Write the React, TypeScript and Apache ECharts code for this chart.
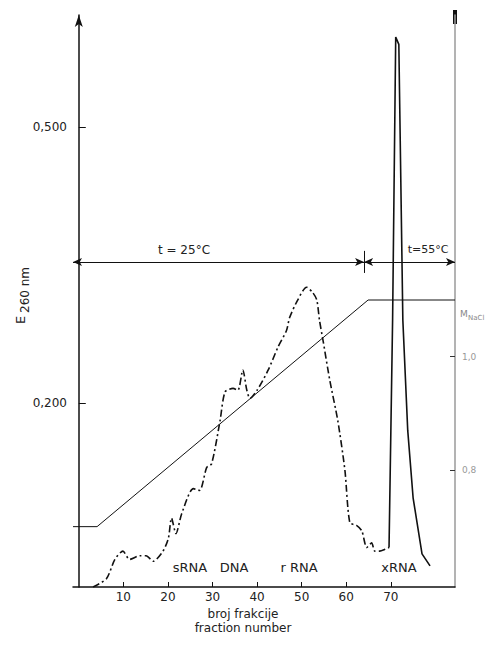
import React, { useEffect, useRef } from "react";
import * as echarts from "echarts";

// E260 profile (dash-dot), fractions 3..70
const mainFractions = [3.2, 6.2, 8.1, 9.9, 11.4, 13.7, 15.1, 16.7, 18.9, 20.1, 20.8, 21.8, 23.1, 25.7, 27.1, 28.7, 29.8, 31.7, 32.8, 34.6, 35.7, 36.8, 37.7, 38.4, 40.0, 42.5, 44.7, 46.6, 47.3, 49.1, 51.1, 52.5, 53.4, 54.0, 54.8, 56.3, 58.1, 59.7, 60.8, 62.3, 63.5, 64.6, 65.7, 66.4, 67.5, 68.7, 69.6];
const mainE = [0.0, 0.009, 0.03, 0.039, 0.03, 0.034, 0.034, 0.028, 0.039, 0.053, 0.075, 0.058, 0.08, 0.107, 0.105, 0.13, 0.134, 0.181, 0.212, 0.216, 0.214, 0.236, 0.214, 0.205, 0.214, 0.236, 0.261, 0.279, 0.293, 0.312, 0.326, 0.32, 0.312, 0.29, 0.268, 0.225, 0.181, 0.127, 0.07, 0.067, 0.061, 0.043, 0.048, 0.039, 0.039, 0.041, 0.043];

// xRNA peak (solid)
const peakFractions = [69.6, 70.4, 71.1, 71.8, 72.7, 73.8, 75.0, 77.0, 78.8];
const peakE = [0.043, 0.29, 0.598, 0.59, 0.29, 0.17, 0.097, 0.036, 0.023];

// NaCl gradient (right axis)
const gradFractions = [-1.3, 4.1, 64.9, 84.4];
const gradM = [0.7, 0.7, 1.1, 1.1];

const xTicks = [10, 20, 30, 40, 50, 60, 70];
const yLeftTicks = [0.2, 0.5];
const yRightTicks = [0.8, 1.0];

// temperature regions
const tempLineE = 0.3535;
const tempSplit = 64;
const tempLabels = ["t = 25°C", "t=55°C"];
const peakLabels = ["sRNA", "DNA", "r RNA", "xRNA"];

const X_MIN = -1.3;
const X_MAX = 84.4;

export default function App() {
  const ref = useRef<HTMLDivElement>(null);
  useEffect(() => {
    if (!ref.current) return;
    const chart = echarts.init(ref.current, null, { renderer: "svg" });
    const font = "DejaVu Sans";
    const fmtComma = (v: number, d: number) => v.toFixed(d).replace(".", ",");
    chart.setOption({
      animation: false,
      backgroundColor: "#fff",
      textStyle: { fontFamily: font },
      grid: { left: 73, right: 44, top: 15, bottom: 58 },
      xAxis: {
        type: "value",
        min: X_MIN,
        max: X_MAX,
        splitLine: { show: false },
        axisLine: { show: true, lineStyle: { color: "#111", width: 1.5 } },
        axisTick: { show: true, inside: true, length: 5, customValues: xTicks, lineStyle: { color: "#111" } },
        axisLabel: { customValues: xTicks, color: "#222", fontSize: 12, margin: 4, fontFamily: font },
      },
      yAxis: [
        {
          type: "value",
          min: 0,
          max: 0.622,
          splitLine: { show: false },
          axisLine: { show: true, lineStyle: { color: "#111", width: 1.5 }, symbol: ["none", "arrow"], symbolSize: [6, 12] },
          axisTick: { show: true, inside: true, length: 7, customValues: yLeftTicks, lineStyle: { color: "#111" } },
          axisLabel: { customValues: yLeftTicks, formatter: (v: number) => fmtComma(v, 3), color: "#222", fontSize: 12, margin: 6, fontFamily: font },
        },
        {
          type: "value",
          position: "right",
          min: 0.5935,
          max: 1.603,
          splitLine: { show: false },
          axisLine: { show: true, lineStyle: { color: "#9a9a9a", width: 1.5 } },
          axisTick: { show: true, inside: true, length: 5, customValues: yRightTicks, lineStyle: { color: "#333" } },
          axisLabel: { customValues: yRightTicks, formatter: (v: number) => fmtComma(v, 1), color: "#999", fontSize: 9, margin: 7, fontFamily: font },
        },
      ],
      series: [
        {
          type: "line",
          yAxisIndex: 0,
          data: mainFractions.map((f, i) => [f, mainE[i]]),
          showSymbol: false,
          smooth: 0.25,
          lineStyle: { color: "#111", width: 1.6, type: [7, 3, 2, 3] },
          markLine: {
            silent: true,
            symbol: ["arrow", "arrow"],
            symbolSize: [6, 9],
            label: { show: false },
            lineStyle: { color: "#111", width: 1, type: "solid" },
            data: [
              [{ coord: [X_MIN, tempLineE] }, { coord: [tempSplit, tempLineE] }],
              [{ coord: [tempSplit, tempLineE] }, { coord: [X_MAX, tempLineE] }],
              [
                { coord: [tempSplit, tempLineE - 0.012], symbol: "none" },
                { coord: [tempSplit, tempLineE + 0.012], symbol: "none" },
              ],
            ],
          },
        },
        {
          type: "line",
          yAxisIndex: 0,
          data: peakFractions.map((f, i) => [f, peakE[i]]),
          showSymbol: false,
          lineStyle: { color: "#111", width: 1.6 },
        },
        {
          type: "line",
          yAxisIndex: 1,
          data: gradFractions.map((f, i) => [f, gradM[i]]),
          showSymbol: false,
          lineStyle: { color: "#111", width: 1 },
        },
      ],
      graphic: [
        { type: "rect", shape: { x: 453, y: 10, width: 4, height: 14 }, style: { fill: "#111" } },
        { type: "text", x: 184, y: 250, style: { text: tempLabels[0], font: `12px ${font}`, fill: "#222", align: "center", verticalAlign: "middle" } },
        { type: "text", x: 428, y: 249, style: { text: tempLabels[1], font: `11px ${font}`, fill: "#222", align: "center", verticalAlign: "middle" } },
        { type: "text", x: 190, y: 567, style: { text: peakLabels[0], font: `13px ${font}`, fill: "#222", align: "center", verticalAlign: "middle" } },
        { type: "text", x: 234, y: 567, style: { text: peakLabels[1], font: `13px ${font}`, fill: "#222", align: "center", verticalAlign: "middle" } },
        { type: "text", x: 299, y: 567, style: { text: peakLabels[2], font: `13px ${font}`, fill: "#222", align: "center", verticalAlign: "middle" } },
        { type: "text", x: 399, y: 567, style: { text: peakLabels[3], font: `13px ${font}`, fill: "#222", align: "center", verticalAlign: "middle" } },
        { type: "text", x: 243, y: 614, style: { text: "broj frakcije", font: `12px ${font}`, fill: "#222", align: "center", verticalAlign: "middle" } },
        { type: "text", x: 243, y: 628, style: { text: "fraction number", font: `12px ${font}`, fill: "#222", align: "center", verticalAlign: "middle" } },
        {
          type: "group",
          x: 20,
          y: 324,
          rotation: Math.PI / 2,
          children: [
            { type: "text", x: 0, y: 0, style: { text: "E", font: `13px ${font}`, fill: "#222", align: "left", verticalAlign: "middle" } },
            { type: "text", x: 11, y: 5, style: { text: "260 nm", font: `12px ${font}`, fill: "#222", align: "left", verticalAlign: "middle" } },
          ],
        },
        { type: "text", x: 460, y: 314, style: { text: "M", font: `9px ${font}`, fill: "#888", align: "left", verticalAlign: "middle" } },
        { type: "text", x: 468, y: 318, style: { text: "NaCl", font: `7px ${font}`, fill: "#888", align: "left", verticalAlign: "middle" } },
      ],
    });
    return () => chart.dispose();
  }, []);
  return <div ref={ref} style={{ position: "fixed", left: 0, top: 0, width: 499, height: 645 }} />;
}
